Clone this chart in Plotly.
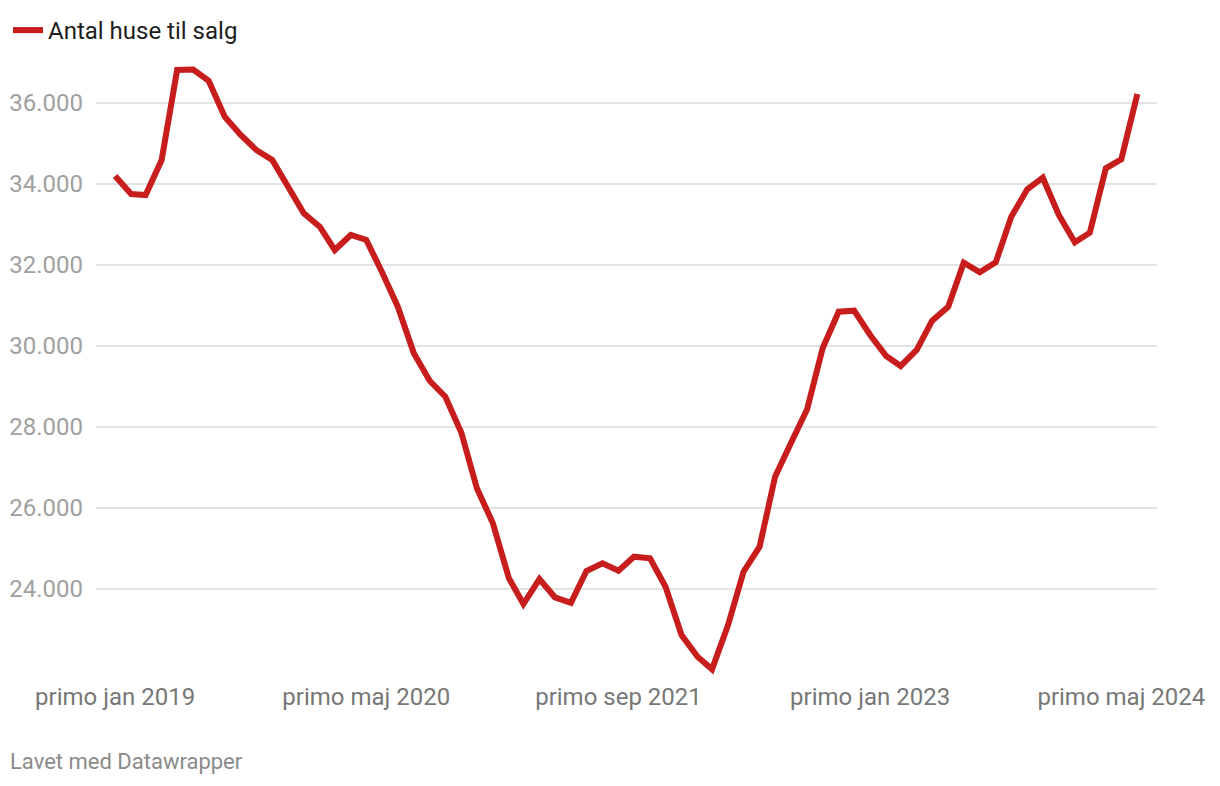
import plotly.graph_objects as go
import pandas as pd

# Monthly values, Jan 2019 - Jun 2024
months = pd.date_range("2019-01-01", "2024-06-01", freq="MS")
houses_for_sale = [
    34190, 33746, 33721, 34585, 36807, 36820, 36543, 35654, 35203, 34832,
    34585, 33901, 33269, 32938, 32363, 32733, 32610, 31803, 30963, 29812,
    29128, 28741, 27850, 26479, 25615, 24257, 23622, 24239, 23788, 23654,
    24437, 24627, 24444, 24790, 24751, 24049, 22857, 22321, 22010, 23104,
    24420, 25037, 26765, 27605, 28430, 29936, 30840, 30864, 30264, 29746,
    29499, 29894, 30617, 30963, 32049, 31812, 32059, 33185, 33862, 34148,
    33227, 32553, 32790, 34380, 34602, 36215,
]

y_ticks = [24000, 26000, 28000, 30000, 32000, 34000, 36000]
y_ticklabels = ["24.000", "26.000", "28.000", "30.000", "32.000", "34.000", "36.000"]
x_ticks = ["2019-01-01", "2020-05-01", "2021-09-01", "2023-01-01", "2024-05-01"]
x_ticklabels = ["primo jan 2019", "primo maj 2020", "primo sep 2021",
                "primo jan 2023", "primo maj 2024"]

fig = go.Figure()
fig.add_trace(go.Scatter(
    x=months, y=houses_for_sale, mode="lines",
    name="Antal huse til salg",
    line=dict(color="#c71e1d", width=6),
))

fig.update_layout(
    width=1220, height=786,
    paper_bgcolor="white", plot_bgcolor="white",
    font=dict(family="Roboto", size=24, color="#777777"),
    margin=dict(l=88, r=71, t=52, b=114, autoexpand=False),
    showlegend=True,
    legend=dict(
        xref="container", yref="container",
        x=0.0, y=1.0, xanchor="left", yanchor="top",
        font=dict(size=24, color="#1d1d1d"),
        itemwidth=30, bgcolor="rgba(0,0,0,0)",
    ),
    annotations=[dict(
        text="Lavet med Datawrapper", xref="paper", yref="paper",
        x=-0.0829, y=-0.132, xanchor="left", yanchor="middle",
        showarrow=False, font=dict(size=22, color="#8a8a8a"),
    )],
)

fig.update_xaxes(
    range=["2018-11-25", "2024-07-09"],
    tickvals=x_ticks, ticktext=x_ticklabels,
    showgrid=False, zeroline=False, showline=False, ticks="",
    tickfont=dict(size=24, color="#777777"), automargin=False,
)
fig.update_yaxes(
    range=[21746, 37054],
    tickvals=y_ticks, ticktext=y_ticklabels,
    showgrid=True, gridcolor="#e3e3e3", gridwidth=2,
    zeroline=False, showline=False, ticks="", ticklabelstandoff=12,
    tickfont=dict(size=24, color="#a0a0a0"), automargin=False,
)

fig.write_html("out.html")
